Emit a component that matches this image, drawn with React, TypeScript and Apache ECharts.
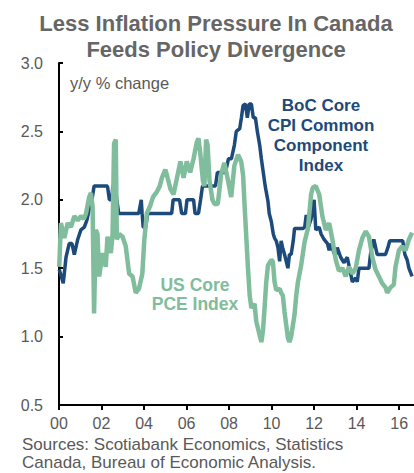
import React, { useEffect, useRef } from "react";
import * as echarts from "echarts";

// BoC core CPI common component (y/y %), decimal year / value
const bocYears = [
  2000.01, 2000.09, 2000.2, 2000.33, 2000.48, 2000.61, 2000.72, 2000.88, 2001.03, 2001.19,
  2001.31, 2001.42, 2001.55, 2001.65, 2002.28, 2002.37, 2002.48, 2002.53, 2002.63, 2002.72,
  2002.81, 2003.75, 2003.87, 2003.91, 2003.96, 2004.08, 2004.17, 2005.3, 2005.37, 2005.67,
  2005.77, 2005.95, 2006.02, 2006.33, 2006.4, 2006.56, 2006.66, 2006.75, 2007.36, 2007.45,
  2007.83, 2007.97, 2008.11, 2008.25, 2008.34, 2008.5, 2008.58, 2008.66, 2008.77, 2008.86,
  2008.95, 2009.05, 2009.14, 2009.24, 2009.33, 2009.44, 2009.52, 2009.6, 2009.7, 2009.83,
  2009.89, 2009.99, 2010.08, 2010.14, 2010.22, 2010.3, 2010.38, 2010.45, 2010.52, 2010.61,
  2010.69, 2010.77, 2010.84, 2010.92, 2011.02, 2011.08, 2011.47, 2011.56, 2011.63, 2011.71,
  2011.86, 2011.94, 2012.0, 2012.08, 2012.24, 2012.33, 2012.47, 2012.63, 2012.71, 2012.78,
  2012.94, 2013.02, 2013.09, 2013.25, 2013.41, 2013.56, 2013.72, 2013.8, 2013.96, 2014.03,
  2014.11, 2014.58, 2014.66, 2014.81, 2014.97, 2015.36, 2015.47, 2015.56, 2016.17, 2016.27,
  2016.38, 2016.46, 2016.61,
];
const bocValues = [
  1.49, 1.45, 1.39, 1.58, 1.68, 1.68, 1.6, 1.71, 1.78, 1.8,
  1.85, 1.93, 2.0, 2.1, 2.1, 2.0, 2.0, 2.1, 2.1, 2.0,
  1.9, 1.9, 2.0, 1.9, 1.8, 1.8, 1.9, 1.9, 2.0, 2.0,
  1.9, 1.9, 2.0, 2.0, 1.9, 1.9, 2.0, 2.1, 2.1, 2.2,
  2.2, 2.3, 2.3, 2.4, 2.5, 2.52, 2.6, 2.69, 2.7, 2.6,
  2.7, 2.7, 2.6, 2.6, 2.5, 2.4, 2.3, 2.21, 2.1, 1.99,
  1.9, 1.84, 1.75, 1.72, 1.7, 1.65, 1.55, 1.7, 1.65, 1.6,
  1.55, 1.5, 1.6, 1.6, 1.7, 1.79, 1.79, 1.8, 1.89, 1.79,
  1.86, 1.96, 2.0, 1.78, 1.8, 1.75, 1.71, 1.68, 1.63, 1.68,
  1.61, 1.6, 1.65, 1.58, 1.54, 1.58, 1.46, 1.4, 1.43, 1.4,
  1.5, 1.5, 1.61, 1.71, 1.6, 1.6, 1.65, 1.7, 1.7, 1.6,
  1.56, 1.5, 1.44,
];

// US core PCE (y/y %), decimal year / value
const pceYears = [
  2000.01, 2000.09, 2000.25, 2000.41, 2000.56, 2000.72, 2000.88, 2001.03, 2001.17, 2001.27,
  2001.42, 2001.5, 2001.58, 2001.65, 2001.73, 2001.81, 2001.89, 2002.05, 2002.2, 2002.28,
  2002.44, 2002.52, 2002.59, 2002.67, 2002.72, 2002.83, 2002.99, 2003.14, 2003.3, 2003.46,
  2003.61, 2003.76, 2003.92, 2004.01, 2004.13, 2004.3, 2004.42, 2004.61, 2004.74, 2004.84,
  2005.0, 2005.08, 2005.24, 2005.39, 2005.55, 2005.71, 2005.86, 2006.01, 2006.17, 2006.33,
  2006.48, 2006.56, 2006.64, 2006.77, 2006.84, 2006.92, 2006.99, 2007.08, 2007.22, 2007.31,
  2007.47, 2007.63, 2007.78, 2007.94, 2008.1, 2008.25, 2008.42, 2008.57, 2008.66, 2008.73,
  2008.89, 2008.97, 2009.05, 2009.2, 2009.28, 2009.44, 2009.52, 2009.6, 2009.67, 2009.75,
  2009.83, 2009.99, 2010.06, 2010.14, 2010.22, 2010.38, 2010.45, 2010.53, 2010.61, 2010.77,
  2010.84, 2010.92, 2011.08, 2011.16, 2011.24, 2011.39, 2011.55, 2011.71, 2011.86, 2011.94,
  2012.08, 2012.24, 2012.39, 2012.55, 2012.71, 2012.86, 2013.02, 2013.17, 2013.33, 2013.49,
  2013.64, 2013.8, 2013.96, 2014.11, 2014.27, 2014.43, 2014.58, 2014.74, 2014.89, 2015.05,
  2015.2, 2015.36, 2015.44, 2015.6, 2015.75, 2015.83, 2015.99, 2016.14, 2016.3, 2016.46,
  2016.61,
];
const pceValues = [
  1.51, 1.83, 1.72, 1.83, 1.8, 1.88, 1.85, 1.88, 1.86, 1.9,
  2.02, 2.05, 1.95, 1.17, 1.78, 1.75, 1.44, 1.61, 1.51, 1.73,
  1.61, 1.75, 2.41, 2.44, 1.71, 1.75, 1.73, 1.66, 1.46, 1.44,
  1.32, 1.35, 1.46, 1.7, 1.9, 1.96, 2.02, 2.06, 2.1, 2.16,
  2.22, 2.18, 2.08, 2.04, 2.16, 2.28, 2.16, 2.28, 2.2, 2.3,
  2.42, 2.45, 2.35, 2.14, 2.1, 2.44, 2.4, 2.14, 2.0, 1.97,
  1.97, 2.19, 2.27, 2.15, 2.02, 2.25, 2.33, 2.28, 2.18, 1.96,
  1.5, 1.3, 1.21, 1.24, 1.11, 1.01, 0.96, 1.05, 1.21, 1.4,
  1.52, 1.56, 1.55, 1.4, 1.34, 1.35, 1.32, 1.3, 1.18, 0.99,
  0.96, 1.0, 1.16, 1.3, 1.4, 1.52, 1.69, 1.79, 2.04, 2.09,
  2.1, 2.04, 1.88, 1.78, 1.83, 1.71, 1.56, 1.48, 1.5, 1.44,
  1.51, 1.46, 1.5, 1.63, 1.72, 1.77, 1.73, 1.58, 1.49, 1.44,
  1.39, 1.36, 1.32, 1.36, 1.38, 1.51, 1.63, 1.66, 1.63, 1.71,
  1.76,
];

const titleLines = ["Less Inflation Pressure In Canada", "Feeds Policy Divergence"];
const bocLabel = ["BoC Core", "CPI Common", "Component", "Index"];
const pceLabel = ["US Core", "PCE Index"];
const unitLabel = "y/y % change";
const sourceLines = ["Sources: Scotiabank Economics, Statistics", "Canada, Bureau of Economic Analysis."];

const BLUE = "#1c4a7b";
const GREEN = "#80bd9c";
const GRAY = "#595959";
const FONT = "'Liberation Sans', Arial, sans-serif";

export default function App() {
  const ref = useRef<HTMLDivElement>(null);
  useEffect(() => {
    if (!ref.current) return;
    const chart = echarts.init(ref.current, null, { renderer: "svg" });
    const boc = bocYears.map((t, i) => [t, bocValues[i]]);
    const pce = pceYears.map((t, i) => [t, pceValues[i]]);
    chart.setOption({
      animation: false,
      backgroundColor: "#ffffff",
      grid: { left: 59, right: 0, top: 63, bottom: 68, containLabel: false },
      xAxis: {
        type: "value",
        min: 2000,
        max: 2016.7,
        interval: 2,
        axisLine: { show: true, lineStyle: { color: "#000", width: 2 } },
        axisTick: { show: true, inside: false, length: 5, lineStyle: { color: "#000", width: 2 } },
        splitLine: { show: false },
        axisLabel: {
          showMaxLabel: false,
          color: GRAY,
          fontSize: 16,
          fontFamily: FONT,
          margin: 10,
          formatter: (v: number) => String(Math.round(v - 2000)).padStart(2, "0"),
        },
      },
      yAxis: {
        type: "value",
        min: 0.5,
        max: 3.0,
        interval: 0.5,
        axisLine: { show: true, lineStyle: { color: "#000", width: 2 } },
        axisTick: { show: true, inside: true, length: 4, lineStyle: { color: "#000", width: 2 } },
        splitLine: { show: false },
        axisLabel: {
          color: GRAY,
          fontSize: 16,
          fontFamily: FONT,
          margin: 16,
          formatter: (v: number) => v.toFixed(1),
        },
      },
      series: [
        {
          type: "line",
          data: boc,
          showSymbol: false,
          lineStyle: { color: BLUE, width: 3.5 },
          z: 2,
        },
        {
          type: "line",
          data: pce,
          showSymbol: false,
          lineStyle: { color: GREEN, width: 4.5 },
          z: 3,
        },
      ],
      graphic: [
        ...titleLines.map((s, i) => ({
          type: "text",
          x: 216,
          y: 23 + i * 26,
          style: { text: s, fill: "#666666", font: `bold 22px ${FONT}`, align: "center", verticalAlign: "middle" },
        })),
        {
          type: "text",
          x: 70,
          y: 83,
          style: { text: unitLabel, fill: GRAY, font: `16.5px ${FONT}`, align: "left", verticalAlign: "middle" },
        },
        ...bocLabel.map((s, i) => ({
          type: "text",
          x: 321,
          y: 105 + i * 20,
          z: 10,
          style: { text: s, fill: BLUE, font: `bold 17px ${FONT}`, align: "center", verticalAlign: "middle" },
        })),
        ...pceLabel.map((s, i) => ({
          type: "text",
          x: 195,
          y: 285 + i * 19,
          z: 10,
          style: { text: s, fill: GREEN, font: `bold 17.5px ${FONT}`, align: "center", verticalAlign: "middle" },
        })),
        ...sourceLines.map((s, i) => ({
          type: "text",
          x: 22,
          y: 444 + i * 18,
          style: { text: s, fill: GRAY, font: `17px ${FONT}`, align: "left", verticalAlign: "middle" },
        })),
      ],
    });
    return () => chart.dispose();
  }, []);
  return <div ref={ref} style={{ width: 414, height: 473, position: "absolute", left: 0, top: 0 }} />;
}
